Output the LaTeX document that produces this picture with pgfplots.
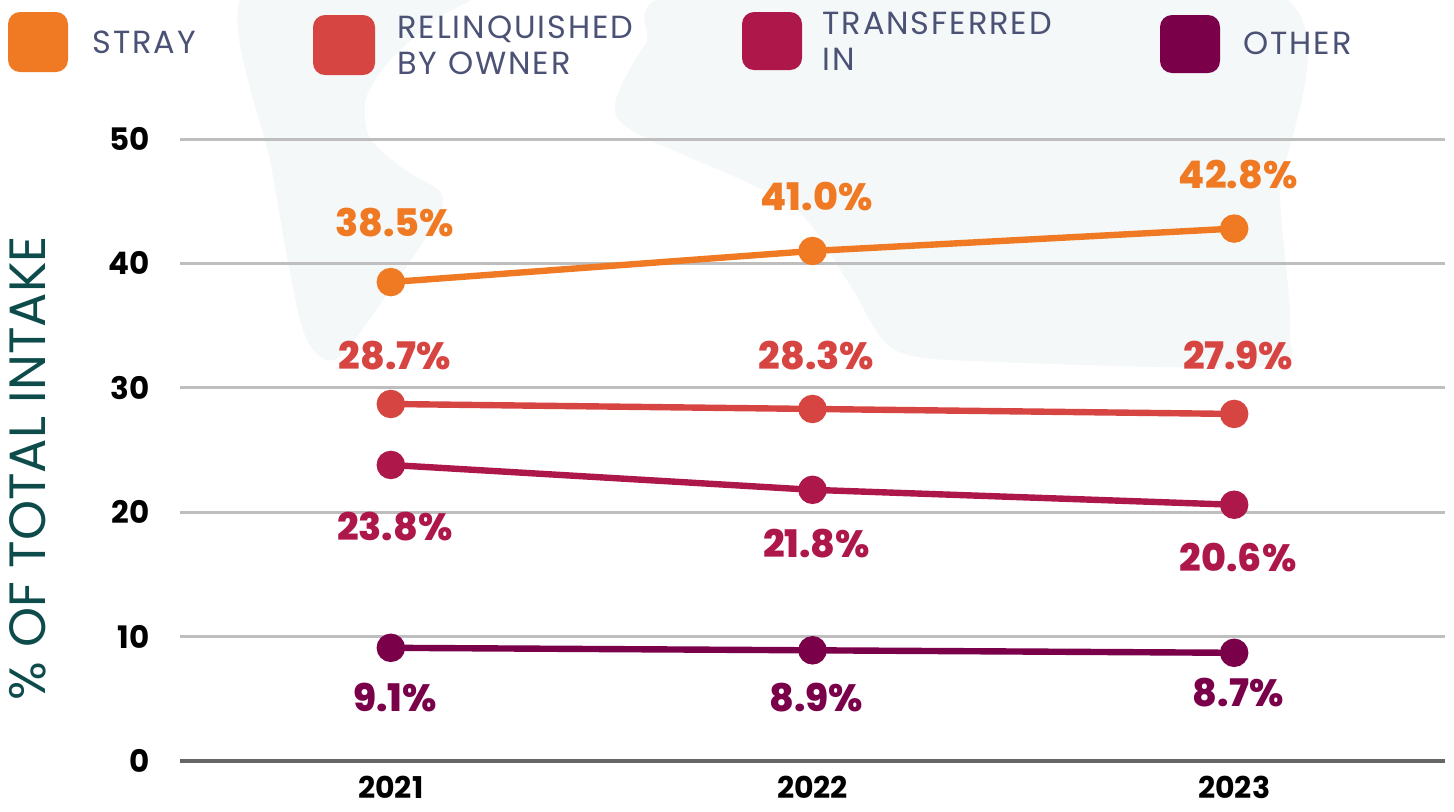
\documentclass[border=0pt]{standalone}
\usepackage{fontspec}
\setmainfont{Poppins}
\newfontfamily\heavy{Poppins ExtraBold}
\usepackage{pgfplots}
\pgfplotsset{compat=1.18}
\definecolor{stray}{HTML}{F07A24}
\definecolor{relinq}{HTML}{D64541}
\definecolor{transf}{HTML}{AD1749}
\definecolor{other}{HTML}{7A004A}
\definecolor{legtext}{HTML}{4B5275}
\definecolor{ylab}{HTML}{0E4B4B}
\definecolor{gridc}{HTML}{BEBEBE}
\definecolor{axisc}{HTML}{666666}
\definecolor{tint}{HTML}{F4F8F8}
\pgfplotstableread{
x y dy
2021 38.5 30
2022 41.0 27
2023 42.8 26.8
}\strayT
\pgfplotstableread{
x y dy
2021 28.7 24
2022 28.3 26.5
2023 27.9 29
}\relinqT
\pgfplotstableread{
x y dy
2021 23.8 -31
2022 21.8 -27
2023 20.6 -26.5
}\transfT
\pgfplotstableread{
x y dy
2021 9.1 -25
2022 8.9 -23.5
2023 8.7 -20
}\otherT
\begin{document}
\begin{tikzpicture}
% faint background watermark
\begin{scope}[x=0.5pt,y=-0.5pt]
  \clip (0,0) rectangle (1454,811);
  \fill[tint] plot[smooth cycle] coordinates {(246,-10) (272,170) (300,320) (322,358) (345,352) (390,290) (438,218) (440,192) (405,170) (370,138) (366,98) (392,58) (438,18) (470,-10)};
  \fill[tint] plot[smooth cycle] coordinates {(700,-10) (645,45) (615,105) (640,135) (790,205) (850,285) (895,350) (1000,362) (1265,366) (1290,330) (1280,200) (1270,-10)};
\end{scope}
\begin{axis}[
  at={(90pt,-380.5pt)}, anchor=south west,
  width=632.5pt, height=311pt, scale only axis,
  xmin=2020.5, xmax=2023.5, ymin=0, ymax=50,
  xtick={2021,2022,2023},
  ytick={10,20,30,40,50},
  extra y ticks={0},
  extra y tick style={grid style={draw=axisc, line width=2pt}},
  ymajorgrids,
  grid style={draw=gridc, line width=1.5pt},
  axis line style={draw=none},
  tick style={draw=none},
  clip=false,
  /pgf/number format/assume math mode=true,
  /pgf/number format/1000 sep={},
  yticklabel style={anchor=east, inner sep=0pt, xshift=-15pt, font=\bfseries\fontsize{15.5}{15.5}\selectfont},
  xticklabel style={anchor=north, inner sep=0pt, yshift=-7.5pt, font=\bfseries\fontsize{15}{15}\selectfont},
  every axis plot/.append style={line width=3.2pt, mark=*, mark size=5.5pt},
  lbl/.style={
    visualization depends on={\thisrow{dy}\as\dy},
    nodes near coords={\pgfmathprintnumber[fixed,fixed zerofill,precision=1,assume math mode=true]{\pgfplotspointmeta}\%},
    every node near coord/.append style={anchor=center, yshift=\dy pt, xshift=2pt, text=#1, font=\heavy\fontsize{19}{19}\selectfont}},
]
\addplot[stray, mark options={fill=stray, draw=none}, lbl=stray] table[x=x,y=y] {\strayT};
\addplot[relinq, mark options={fill=relinq, draw=none}, lbl=relinq] table[x=x,y=y] {\relinqT};
\addplot[transf, mark options={fill=transf, draw=none}, lbl=transf] table[x=x,y=y] {\transfT};
\addplot[other, mark options={fill=other, draw=none}, lbl=other] table[x=x,y=y] {\otherT};
\end{axis}
% legend and y label
\begin{scope}[x=0.5pt,y=-0.5pt]
  \fill[stray, rounded corners=6pt] (8,12) rectangle (68,72);
  \fill[relinq, rounded corners=6pt] (313,15) rectangle (375,75);
  \fill[transf, rounded corners=6pt] (742,12) rectangle (802,70);
  \fill[other, rounded corners=6pt] (1160,15) rectangle (1220,73);
  \begin{scope}[every node/.style={anchor=west, inner sep=0pt, text=legtext, align=left, font=\addfontfeature{LetterSpace=6}\fontsize{16}{18}\selectfont}]
    \node at (92,42) {STRAY};
    \node at (397,45) {RELINQUISHED\\BY OWNER};
    \node at (822,41) {TRANSFERRED\\IN};
    \node at (1243,43) {OTHER};
  \end{scope}
  \node[rotate=90, inner sep=0pt, text=ylab, font=\fontsize{25.5}{25.5}\selectfont] at (28,468) {\% OF TOTAL INTAKE};
\end{scope}
\pgfresetboundingbox
\path[use as bounding box] (0,0) rectangle (727pt,-405.5pt);
\end{tikzpicture}
\end{document}
